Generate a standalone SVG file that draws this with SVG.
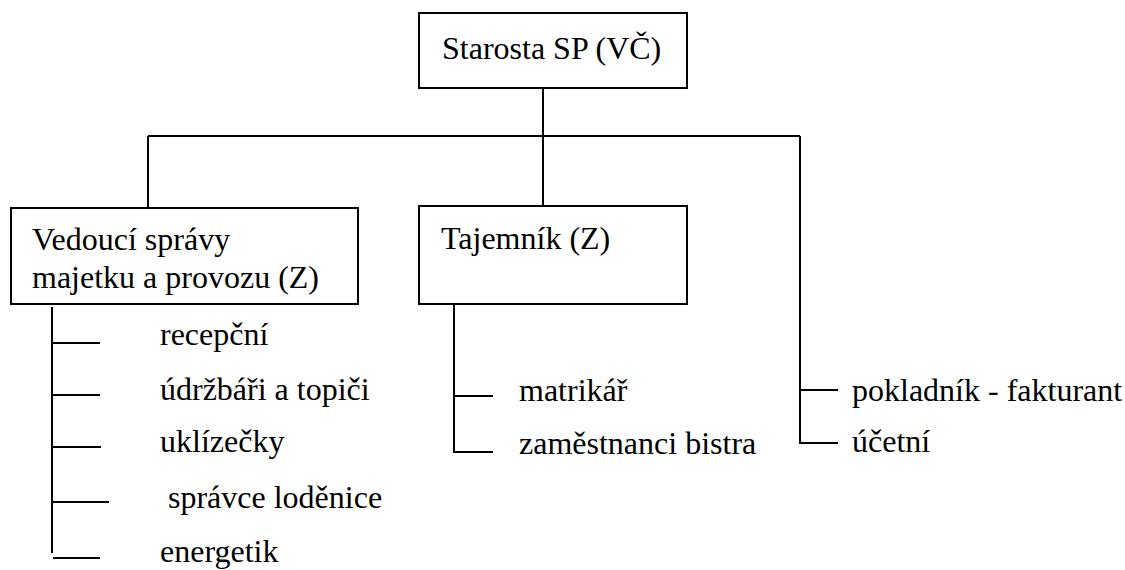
<svg xmlns="http://www.w3.org/2000/svg" width="1125" height="570" viewBox="0 0 1125 570">
<style>
.box{fill:#fff;stroke:#000;stroke-width:2}
.ln{stroke:#000;stroke-width:2;fill:none}
</style>
<rect width="1125" height="570" fill="#fff"/>
<g id="connectors">
<path class="ln" d="M543 88V206"/>
<path class="ln" d="M148 136H800"/>
<path class="ln" d="M148 136V208"/>
<path class="ln" d="M800 136V443H838"/>
<path class="ln" d="M800 390H838"/>
<path class="ln" d="M454 304V452H493"/>
<path class="ln" d="M454 396H493"/>
<path class="ln" d="M52 307V553"/>
<path class="ln" d="M52 343H100"/>
<path class="ln" d="M52 395H100"/>
<path class="ln" d="M52 447H101"/>
<path class="ln" d="M52 502H109"/>
<path class="ln" d="M53 558H100"/>
</g>
<g font-family="'Liberation Serif', 'DejaVu Serif', serif" font-size="32" fill="#000">
<g id="starosta">
<rect class="box" x="419" y="13" width="268" height="75"/>
<text x="442" y="59">Starosta SP (VČ)</text>
</g>
<g id="vedouci">
<rect class="box" x="11" y="208" width="347" height="96"/>
<text x="32" y="250">Vedoucí správy</text>
<text x="32" y="288">majetku a provozu (Z)</text>
</g>
<g id="tajemnik">
<rect class="box" x="419" y="206" width="268" height="98"/>
<text x="441" y="249">Tajemník (Z)</text>
</g>
<g id="recepcni"><text x="160" y="345">recepční</text></g>
<g id="udrzbari"><text x="160" y="400">údržbáři a topiči</text></g>
<g id="uklizecky"><text x="160" y="452">uklízečky</text></g>
<g id="spravce"><text x="168" y="508">správce loděnice</text></g>
<g id="energetik"><text x="160" y="562">energetik</text></g>
<g id="matrikar"><text x="519" y="401">matrikář</text></g>
<g id="zamestnanci"><text x="519" y="454">zaměstnanci bistra</text></g>
<g id="pokladnik"><text x="852" y="401">pokladník - fakturant</text></g>
<g id="ucetni"><text x="852" y="452">účetní</text></g>
</g>
</svg>
